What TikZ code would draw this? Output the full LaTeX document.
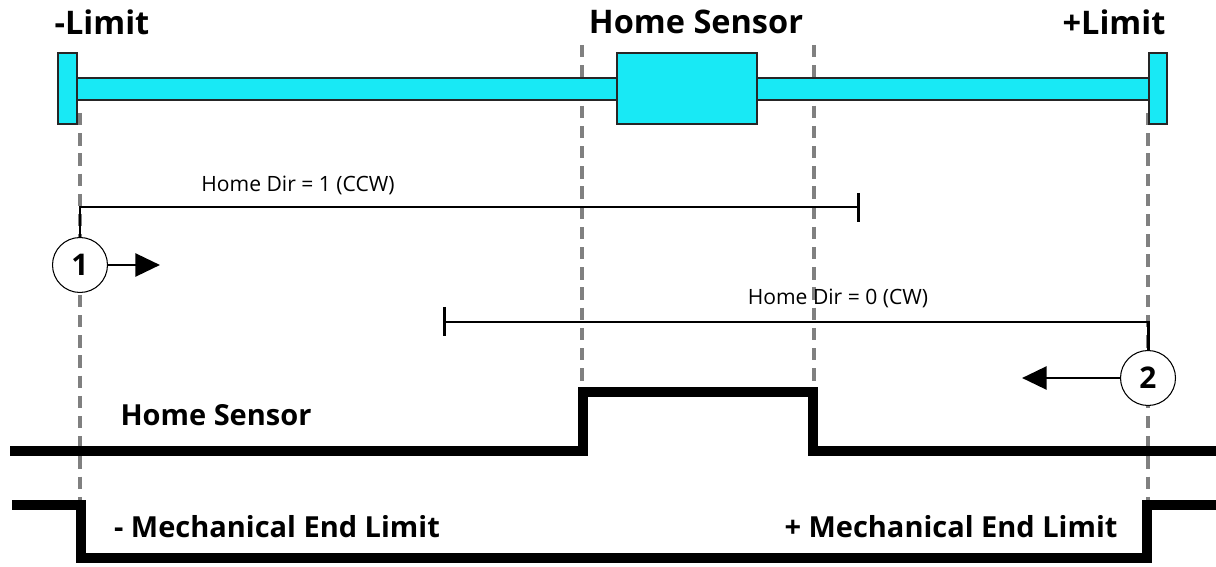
\documentclass[tikz,border=0pt]{standalone}
\usepackage{fontspec}
\setmainfont{Open Sans}
\usetikzlibrary{arrows.meta}
\definecolor{barcyan}{RGB}{24,233,245}
\definecolor{dashgray}{RGB}{128,128,128}
\begin{document}
\begin{tikzpicture}[x=0.02cm,y=-0.02cm,
  block/.style={draw=black!85, line width=0.7pt, fill=barcyan, inner sep=0pt},
  guide/.style={draw=dashgray, line width=1.8pt, dash pattern=on 7pt off 4.5pt},
  signal/.style={line width=5.4pt, line join=miter},
  spanline/.style={line width=1.7pt},
  numc/.style={circle, draw, fill=white, line width=0.6pt, minimum size=1.1cm, inner sep=0pt, font=\bfseries\fontsize{17}{20}\selectfont},
  bigl/.style={font=\bfseries\fontsize{18.5}{22}\selectfont, inner sep=0pt},
  midl/.style={font=\bfseries\fontsize{16.5}{19}\selectfont, inner sep=0pt},
  smalll/.style={font=\fontsize{12}{14}\selectfont, inner sep=0pt},
  dirarrow/.style={line width=1.7pt, -{Triangle[length=14pt, width=13pt]}}
]
\useasboundingbox (0,0) rectangle (1216,567);

% guide lines
\coordinate (g1t) at (80,113);   \coordinate (g1b) at (80,505);
\coordinate (g2t) at (582,45);   \coordinate (g2b) at (582,455);
\coordinate (g3t) at (814,45);   \coordinate (g3b) at (814,455);
\coordinate (g4t) at (1148,113); \coordinate (g4b) at (1148,505);
\draw[guide] (g1t) -- (g1b);
\draw[guide] (g2t) -- (g2b);
\draw[guide] (g3t) -- (g3b);
\draw[guide] (g4t) -- (g4b);

% rail and blocks
\node[block, minimum width=21.44cm, minimum height=0.44cm] (bar) at (613,89) {};
\node[block, minimum width=0.38cm, minimum height=1.42cm] (lblk) at (67.5,88.5) {};
\node[block, minimum width=0.36cm, minimum height=1.42cm] (rblk) at (1158,88.5) {};
\node[block, minimum width=2.8cm, minimum height=1.42cm] (sens) at (687,88.5) {};

% top labels
\node[bigl] (lneg) at (102,22) {-Limit};
\node[bigl] (lhome) at (696,22) {Home Sensor};
\node[bigl] (lpos) at (1114,22) {+Limit};

% home dir 1
\node[smalll] (d1lab) at (298,185) {Home Dir = 1 (CCW)};
\node[numc] (c1) at (80,265) {1};
\coordinate (d1a) at (80,207);
\coordinate (d1b) at (858,207);
\draw[spanline] (c1.north) -- (d1a) -- (d1b);
\coordinate (t1a) at (858,193); \coordinate (t1b) at (858,222);
\draw[spanline] (t1a) -- (t1b);
\coordinate (a1end) at (160,265);
\draw[dirarrow] (c1.east) -- (a1end);

% home dir 0
\node[smalll] (d0lab) at (838,298) {Home Dir = 0 (CW)};
\node[numc] (c2) at (1148,378) {2};
\coordinate (d0a) at (1148,322);
\coordinate (d0b) at (444,322);
\draw[spanline] (c2.north) -- (d0a) -- (d0b);
\coordinate (t0a) at (444,307); \coordinate (t0b) at (444,336);
\draw[spanline] (t0a) -- (t0b);
\coordinate (a2end) at (1022,378);
\draw[dirarrow] (c2.west) -- (a2end);

% home sensor signal
\node[midl] (hslab) at (216,415) {Home Sensor};
\draw[signal] (10,451) -- (583,451) -- (583,392) -- (813,392) -- (813,451) -- (1216,451);

% mechanical end limit signal
\node[midl] (mneg) at (277,527) {- Mechanical End Limit};
\node[midl] (mpos) at (951,527) {+ Mechanical End Limit};
\draw[signal] (12,505) -- (81,505) -- (81,558) -- (1147,558) -- (1147,505) -- (1216,505);
\end{tikzpicture}
\end{document}
